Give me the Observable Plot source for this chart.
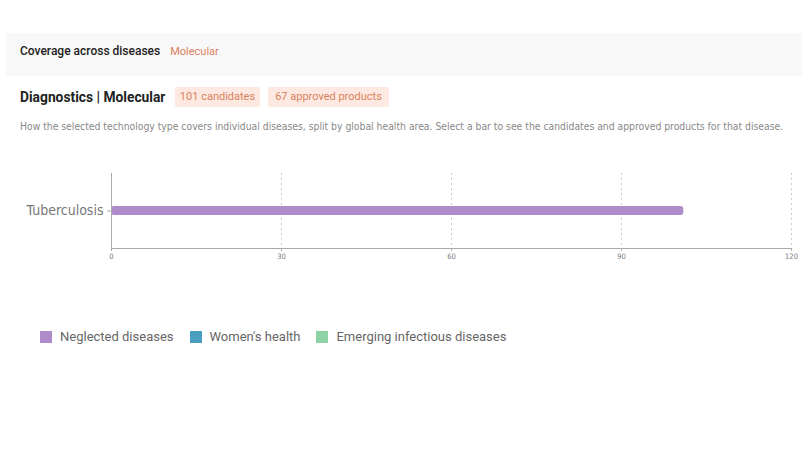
<!DOCTYPE html>
<html><head><meta charset="utf-8">
<script src="https://cdn.jsdelivr.net/npm/d3@7"></script>
<script src="https://cdn.jsdelivr.net/npm/@observablehq/plot@0.6"></script>
<style>
body{margin:0;background:#fff;font-family:Roboto,"Noto Sans",sans-serif;width:808px;height:455px;overflow:hidden;position:relative}
.band{position:absolute;left:6px;top:33px;width:796px;height:43px;background:#f8f8f8}
.t1{position:absolute;left:20px;top:44px;font-size:12px;font-weight:500;color:#222;white-space:nowrap}
.t1 span{color:#d9825f;font-weight:400;font-size:11px;margin-left:10px}
.t2{position:absolute;left:20px;top:87px;font-size:13.8px;font-weight:700;color:#222;line-height:20px;white-space:nowrap}
.badge{position:absolute;top:87px;height:20px;line-height:20px;background:#fde9e1;color:#d9825f;font-size:11px;box-sizing:border-box;border-radius:2px;white-space:nowrap;text-align:center}
.desc{position:absolute;left:20px;top:120px;font-family:"Liberation Sans Narrow","DejaVu Sans Condensed",sans-serif;font-size:10.3px;color:#888;white-space:nowrap}
#chart{position:absolute;left:0;top:160px}
.legend{position:absolute;top:329px;left:40px;font-size:13px;color:#666;display:flex;align-items:center}
.legend .sw{width:12px;height:12px;display:inline-block;margin-right:8px}
.legend .it{display:flex;align-items:center;margin-right:16px}
</style></head>
<body>
<div class="band"></div>
<div class="t1">Coverage across diseases<span>Molecular</span></div>
<div class="t2">Diagnostics | Molecular</div>
<div class="badge" style="left:175px;width:85px">101 candidates</div>
<div class="badge" style="left:268px;width:121px">67 approved products</div>
<div class="desc">How the selected technology type covers individual diseases, split by global health area. Select a bar to see the candidates and approved products for that disease.</div>
<div id="chart"></div>
<div class="legend" id="legend"></div>
<script>
const diseases = ["Tuberculosis"];
const counts = [101];
const areas = ["Neglected diseases"];
const legendAreas = ["Neglected diseases", "Women's health", "Emerging infectious diseases"];
const legendColors = ["#ae8bc9", "#4a9fc0", "#8ed3a6"];
const xTicks = [0, 30, 60, 90, 120];

const data = diseases.map((d, i) => ({disease: d, count: counts[i], area: areas[i]}));

const chart = Plot.plot({
  width: 808,
  height: 108,
  marginLeft: 111,
  marginRight: 17,
  marginTop: 13,
  marginBottom: 20,
  style: {fontFamily: "'Liberation Sans Narrow','DejaVu Sans Condensed',sans-serif", color: "#777", background: "transparent"},
  x: {domain: [0, 120], ticks: xTicks, label: null},
  y: {domain: diseases, label: null, padding: 0.79},
  color: {domain: legendAreas, range: legendColors},
  marks: [
    Plot.gridX(xTicks.slice(1), {stroke: "#ccc", strokeOpacity: 1, strokeDasharray: "2,3"}),
    Plot.barX(data, {x: "count", y: "disease", fill: "area", rx: 3}),
    Plot.axisX({ticks: xTicks, fontSize: 7.5, tickSize: 3, stroke: "#aaa", tickPadding: 2, color: "#777"}),
    Plot.axisY({fontSize: 14, tickSize: 4, stroke: "#aaa", color: "#777", tickPadding: 4}),
    Plot.frame({anchor: "bottom", stroke: "#aaa"}),
    Plot.frame({anchor: "left", stroke: "#aaa"})
  ]
});
document.getElementById("chart").appendChild(chart);

const lg = document.getElementById("legend");
legendAreas.forEach((a, i) => {
  const it = document.createElement("div");
  it.className = "it";
  it.innerHTML = `<span class="sw" style="background:${legendColors[i]}"></span>${a}`;
  lg.appendChild(it);
});
</script>
</body></html>
